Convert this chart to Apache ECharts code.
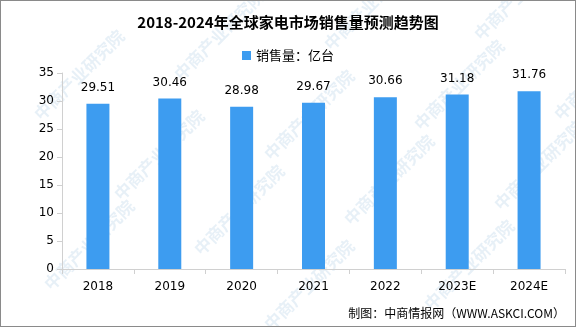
<!DOCTYPE html>
<html>
<head>
<meta charset="utf-8">
<script src="https://cdn.jsdelivr.net/npm/echarts@6/dist/echarts.min.js"></script>
<style>
  html, body { margin: 0; padding: 0; background: #fff; }
  #chart { width: 574px; height: 325px; border: 1px solid #8a8a8a; }
</style>
</head>
<body>
<div id="chart"></div>
<script>
const titleText = '2018-2024年全球家电市场销售量预测趋势图';
const seriesName = '销售量：亿台';
const categories = ['2018', '2019', '2020', '2021', '2022', '2023E', '2024E'];
const salesValues = [29.51, 30.46, 28.98, 29.67, 30.66, 31.18, 31.76];
const sourceText = '制图：中商情报网（WWW.ASKCI.COM）';
const watermarkText = '中商产业研究院';

const chart = echarts.init(document.getElementById('chart'), null, { renderer: 'canvas' });

// faint diagonal watermark tiles
const marks = [];
const spots = [[30, 110], [170, 70], [320, 40], [470, 30], [110, 190], [260, 150], [410, 120], [550, 110],
               [40, 280], [190, 245], [340, 215], [490, 200], [260, 320], [420, 300]];
spots.forEach(function (p) {
  marks.push({
    type: 'text', x: p[0], y: p[1], rotation: Math.PI / 4, silent: true, z: 0,
    style: { text: watermarkText, fill: 'rgba(120,170,210,0.18)', font: 'bold 17px "Noto Sans CJK SC"' }
  });
});
marks.push({
  type: 'text', right: 10, top: 306, z: 10,
  style: { text: sourceText, fill: '#000', font: '12px "Noto Sans CJK SC"' }
});

chart.setOption({
  animation: false,
  title: {
    text: titleText, left: 'center', top: 9,
    textStyle: { fontFamily: 'Noto Sans CJK SC', fontSize: 15, fontWeight: 'bold', color: '#000' }
  },
  legend: {
    top: 43, left: 'center', itemWidth: 9, itemHeight: 9, icon: 'rect',
    textStyle: { fontFamily: 'Noto Sans CJK SC', fontSize: 13, color: '#000' },
    data: [seriesName]
  },
  grid: { left: 61, right: 10, top: 72, bottom: 57, containLabel: false },
  xAxis: {
    type: 'category', data: categories,
    axisLine: { lineStyle: { color: '#d0d0d0' } },
    axisTick: { show: true, alignWithLabel: false, lineStyle: { color: '#d0d0d0' } },
    axisLabel: { color: '#000', fontFamily: 'DejaVu Sans', fontSize: 12, margin: 12 }
  },
  yAxis: {
    type: 'value', min: 0, max: 35, interval: 5,
    axisLine: { show: true, lineStyle: { color: '#d0d0d0' } },
    axisTick: { show: true, lineStyle: { color: '#d0d0d0' } },
    splitLine: { show: false },
    axisLabel: { color: '#000', fontFamily: 'DejaVu Sans', fontSize: 12, margin: 8 }
  },
  series: [{
    name: seriesName, type: 'bar', data: salesValues, barWidth: 23,
    itemStyle: { color: '#3d9cf0' },
    label: {
      show: true, position: 'top', distance: 10, color: '#000',
      fontFamily: 'DejaVu Sans', fontSize: 12
    }
  }],
  graphic: marks
});
</script>
</body>
</html>
